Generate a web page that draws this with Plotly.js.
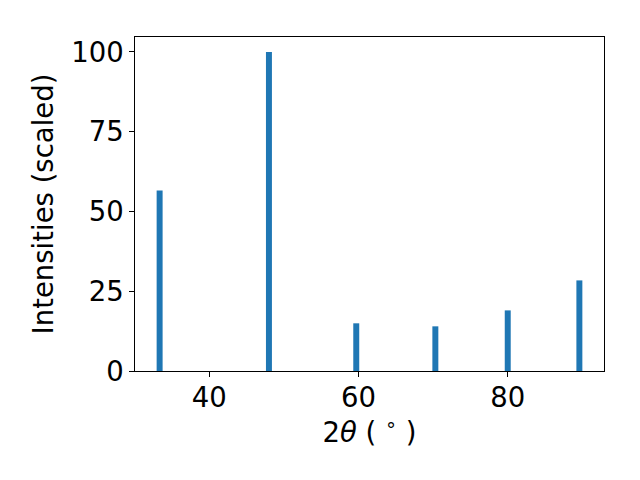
<!DOCTYPE html>
<html>
<head>
<meta charset="utf-8">
<script src="https://cdn.plot.ly/plotly-3.0.1.min.js"></script>
<style>html,body{margin:0;padding:0;background:#fff;}#chart{width:640px;height:480px;}</style>
</head>
<body>
<div id="chart"></div>
<script>
const twoTheta = [33.35, 48.0, 59.7, 70.3, 80.0, 89.6];
const intensities = [56.6, 100, 14.95, 14.0, 19.0, 28.4];
const xTicks = [40, 60, 80];
const yTicks = [0, 25, 50, 75, 100];

const font = {family: 'DejaVu Sans, sans-serif', size: 27.5, color: '#000'};

Plotly.newPlot('chart', [{
  type: 'bar',
  x: twoTheta,
  y: intensities,
  width: 0.8,
  marker: {color: '#1f77b4', line: {width: 0}},
  hoverinfo: 'none'
}], {
  width: 640, height: 480,
  margin: {l: 135, r: 36, t: 37, b: 109, pad: 0},
  paper_bgcolor: '#fff', plot_bgcolor: '#fff',
  font: font,
  showlegend: false,
  xaxis: {
    range: [30.05, 92.9],
    tickvals: xTicks,
    ticktext: xTicks.map(String),
    ticks: 'outside', ticklen: 4.7, tickwidth: 1, tickcolor: '#000',
    ticklabelstandoff: -3,
    showline: true, linecolor: '#000', linewidth: 1, mirror: true,
    showgrid: false, zeroline: false,
    tickfont: font,
    title: {text: '2<i>θ</i> ( <sup>∘</sup> )', font: font, standoff: 2}
  },
  yaxis: {
    range: [0, 104.7],
    tickvals: yTicks,
    ticktext: yTicks.map(String),
    ticks: 'outside', ticklen: 4.7, tickwidth: 1, tickcolor: '#000',
    showline: true, linecolor: '#000', linewidth: 1, mirror: true,
    showgrid: false, zeroline: false,
    tickfont: font,
    title: {text: 'Intensities (scaled)', font: font, standoff: 9}
  }
}, {staticPlot: true, displayModeBar: false});
</script>
</body>
</html>
